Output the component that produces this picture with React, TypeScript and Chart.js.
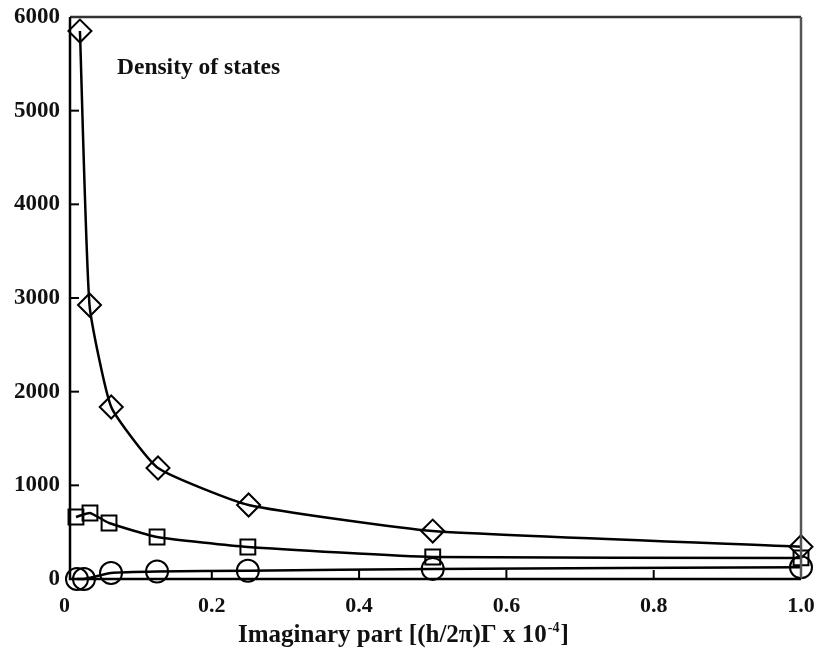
import React, { useEffect, useRef } from "react";
import { Chart, registerables } from "chart.js";

Chart.register(...registerables);

// ---- data ----
const diamondX = [0.021, 0.034, 0.0635, 0.127, 0.25, 0.5, 1.0];
const diamondY = [5850, 2925, 1836, 1185, 790, 512, 345];

const squareX = [0.0156, 0.0346, 0.0605, 0.1257, 0.249, 0.5, 1.0];
const squareY = [662, 705, 598, 448, 342, 235, 225];

const circleX = [0.017, 0.0265, 0.0632, 0.1257, 0.249, 0.5, 1.0];
const circleY = [0, 0, 64, 80, 88, 108, 125];

const xTicks = [0, 0.2, 0.4, 0.6, 0.8, 1.0];
const yTicks = [0, 1000, 2000, 3000, 4000, 5000, 6000];

const chartTitle = "Density of states";
const xTitleMain = "Imaginary part [(h/2\u03c0)\u0393 x 10";
const xTitleSup = "-4";
const xTitleEnd = "]";

const SERIF = "'Liberation Serif', 'Times New Roman', serif";

const toPoints = (xs: number[], ys: number[]) => xs.map((x, i) => ({ x, y: ys[i] }));

const framePlugin = {
  id: "frame",
  afterDatasetsDraw(chart: any) {
    const { ctx, chartArea, scales } = chart;
    const { left, right, top, bottom } = chartArea;
    ctx.save();
    ctx.lineWidth = 2.5;
    ctx.strokeStyle = "#333";
    ctx.beginPath();
    ctx.moveTo(left, top);
    ctx.lineTo(right, top);
    ctx.stroke();
    ctx.strokeStyle = "#555";
    ctx.beginPath();
    ctx.moveTo(right, top);
    ctx.lineTo(right, bottom);
    ctx.stroke();
    ctx.strokeStyle = "#000";
    ctx.lineWidth = 2.5;
    ctx.beginPath();
    ctx.moveTo(left, top);
    ctx.lineTo(left, bottom);
    ctx.lineTo(right, bottom);
    ctx.stroke();
    ctx.lineWidth = 2;
    yTicks.forEach((v) => {
      if (v === 0 || v === 6000) return;
      const y = scales.y.getPixelForValue(v);
      ctx.beginPath();
      ctx.moveTo(left, y);
      ctx.lineTo(left + 9, y);
      ctx.stroke();
    });
    xTicks.forEach((v) => {
      if (v === 0 || v === 1.0) return;
      const x = scales.x.getPixelForValue(v);
      ctx.beginPath();
      ctx.moveTo(x, bottom);
      ctx.lineTo(x, bottom - 9);
      ctx.stroke();
    });
    ctx.fillStyle = "#111";
    ctx.textAlign = "left";
    ctx.textBaseline = "alphabetic";
    ctx.font = `bold 23.5px ${SERIF}`;
    ctx.fillText(chartTitle, 117, 74);
    ctx.font = `bold 25px ${SERIF}`;
    let x = 238;
    const base = 642;
    ctx.fillText(xTitleMain, x, base);
    x += ctx.measureText(xTitleMain).width + 1;
    ctx.font = `bold 14px ${SERIF}`;
    ctx.fillText(xTitleSup, x, base - 10);
    x += ctx.measureText(xTitleSup).width + 1;
    ctx.font = `bold 25px ${SERIF}`;
    ctx.fillText(xTitleEnd, x, base);
    ctx.restore();
  },
};

export default function App() {
  const ref = useRef<HTMLCanvasElement | null>(null);
  useEffect(() => {
    document.body.style.margin = "0";
    const canvas = ref.current;
    if (!canvas) return;
    const common = {
      borderColor: "#000",
      borderWidth: 2.5,
      pointBorderColor: "#000",
      pointBackgroundColor: "rgba(0,0,0,0)",
      pointBorderWidth: 2,
      tension: 0.15,
      clip: false as any,
      fill: false,
    };
    const chart = new Chart(canvas, {
      type: "line",
      data: {
        datasets: [
          {
            ...common,
            label: "diamond",
            data: toPoints(diamondX, diamondY),
            pointStyle: "rectRot",
            pointRadius: 11.5,
          },
          {
            ...common,
            label: "square",
            data: toPoints(squareX, squareY),
            pointStyle: "rect",
            pointRadius: 10.5,
          },
          {
            ...common,
            label: "circle",
            data: toPoints(circleX, circleY),
            pointStyle: "circle",
            pointRadius: 11,
          },
        ],
      },
      options: {
        animation: false,
        responsive: false,
        maintainAspectRatio: false,
        layout: { padding: { left: 0, right: 15, top: 17, bottom: 0 } },
        plugins: {
          legend: { display: false },
          tooltip: { enabled: false },
          title: { display: false },
        },
        scales: {
          x: {
            type: "linear",
            min: 0.0075,
            max: 1.0,
            grid: { display: false, drawTicks: false },
            border: { display: false },
            afterBuildTicks: (scale: any) => {
              scale.ticks = xTicks.map((v) => ({ value: v }));
            },
            afterFit: (scale: any) => {
              scale.height = 74;
              scale.paddingLeft = 0;
              scale.paddingRight = 0;
            },
            ticks: {
              autoSkip: false,
              maxRotation: 0,
              padding: 14,
              color: "#111",
              font: { family: SERIF, size: 22, weight: "bold" },
              callback: (v: any) => (Number(v) === 0 ? "0" : Number(v).toFixed(1)),
            },
          },
          y: {
            type: "linear",
            min: 0,
            max: 6000,
            grid: { display: false, drawTicks: false },
            border: { display: false },
            afterBuildTicks: (scale: any) => {
              scale.ticks = yTicks.map((v) => ({ value: v }));
            },
            afterFit: (scale: any) => {
              scale.width = 70;
              scale.paddingTop = 0;
              scale.paddingBottom = 0;
            },
            ticks: {
              autoSkip: false,
              padding: 10,
              color: "#111",
              font: { family: SERIF, size: 23, weight: "bold" },
              callback: (v: any) => String(v),
            },
          },
        },
      },
      plugins: [framePlugin],
    });
    return () => chart.destroy();
  }, []);
  return (
    <div style={{ position: "absolute", left: 0, top: 0, width: 816, height: 653, background: "#fff" }}>
      <canvas ref={ref} width={816} height={653} />
    </div>
  );
}
